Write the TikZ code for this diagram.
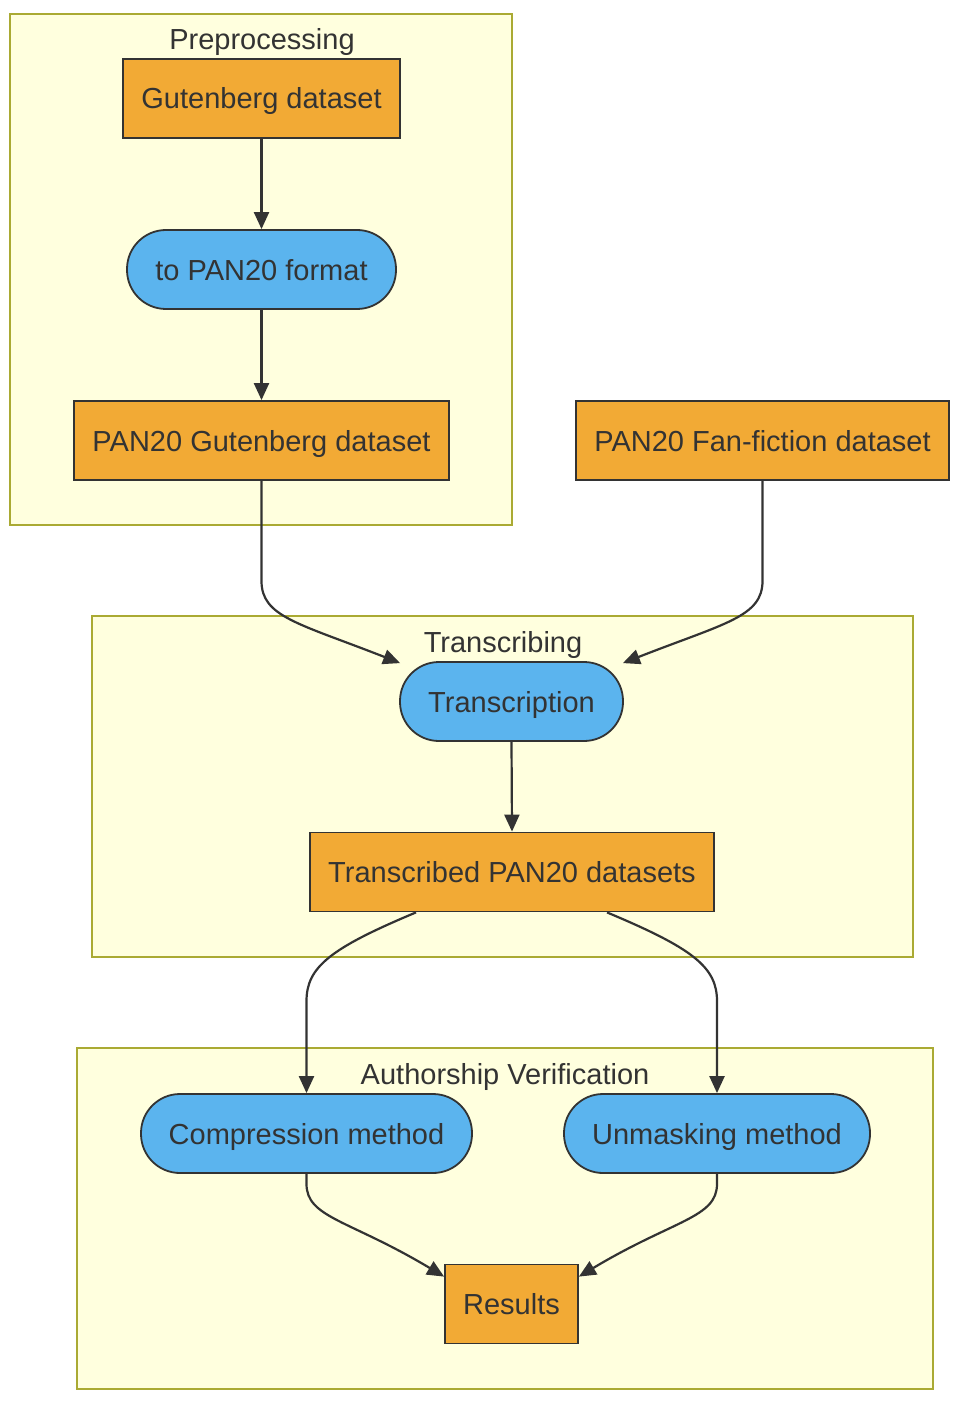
\documentclass[tikz,border=0pt]{standalone}
\usepackage{fontspec}
\setmainfont{Liberation Sans}
\usetikzlibrary{arrows.meta,calc}
\definecolor{clfill}{HTML}{FFFFDE}
\definecolor{cldraw}{HTML}{AAAA33}
\definecolor{orangefill}{HTML}{F2AA35}
\definecolor{bluefill}{HTML}{5BB4EE}
\definecolor{ink}{HTML}{333333}
\tikzset{
  cluster/.style={fill=clfill,draw=cldraw,line width=1.5pt},
  cltitle/.style={text=ink,font=\fontsize{29}{34}\selectfont,inner sep=0pt,anchor=base},
  basebox/.style={fill=orangefill,draw=ink,line width=1.8pt,text=ink,
     font=\fontsize{29}{34}\selectfont,inner sep=0pt,minimum height=79pt,
     text height=21pt,text depth=0pt},
  databox/.style={basebox,rectangle},
  procbox/.style={basebox,rectangle,rounded corners=39pt,fill=bluefill},
  flow/.style={draw=ink,line width=2.2pt,-{Triangle[length=17pt,width=15pt]}}
}
\begin{document}
\begin{tikzpicture}[x=1pt,y=1pt]
\useasboundingbox (0,0) rectangle (964,-1404);
% clusters
\draw[cluster] (10,-14) rectangle (512,-525);
\draw[cluster] (92,-616) rectangle (913,-957);
\draw[cluster] (77,-1048) rectangle (933,-1389);
\node[cltitle] (t1) at (262,-50) {Preprocessing};
\node[cltitle] (t2) at (503,-652) {Transcribing};
\node[cltitle] (t3) at (505,-1084) {Authorship Verification};
% nodes
\node[databox,minimum width=277pt] (gut) at (261.5,-98.5) {Gutenberg dataset};
\node[procbox,minimum width=269pt] (fmt) at (261.5,-269.5) {to PAN20 format};
\node[databox,minimum width=375pt] (pg) at (261.5,-440.5) {PAN20 Gutenberg dataset};
\node[databox,minimum width=373pt] (pf) at (762.5,-440.5) {PAN20 Fan-fiction dataset};
\node[procbox,minimum width=223pt] (tr) at (511.5,-701.5) {Transcription};
\node[databox,minimum width=404pt] (td) at (512,-872) {Transcribed PAN20 datasets};
\node[procbox,minimum width=331pt] (cm) at (306.5,-1133.5) {Compression method};
\node[procbox,minimum width=306pt] (um) at (717,-1133.5) {Unmasking method};
\node[databox,minimum width=133pt] (res) at (511.5,-1304) {Results};
% edges
\draw[flow] (gut.south) -- (fmt.north);
\draw[flow] (fmt.south) -- (pg.north);
\draw[flow] (pg.south) -- ++(0,-100) .. controls +(0,-36) and ($(tr.north west)+(-101,38)$) .. ($(tr.north west)+(1,-2)$);
\draw[flow] (pf.south) -- ++(0,-100) .. controls +(0,-36) and ($(tr.north east)+(101,38)$) .. ($(tr.north east)+(-1,-2)$);
\draw[flow] (tr.south) -- (td.north);
\draw[flow] ($(td.south)+(-96,0)$) .. controls +(-86,-36) and ($(cm.north)+(0,126)$) .. ($(cm.north)+(0,92)$) -- (cm.north);
\draw[flow] ($(td.south)+(95,0)$) .. controls +(86,-36) and ($(um.north)+(0,126)$) .. ($(um.north)+(0,92)$) -- (um.north);
\draw[flow] (cm.south) -- ++(0,-10) .. controls +(0,-34) and ($(res.north west)+(-95,44)$) .. ($(res.north west)+(0,-13)$);
\draw[flow] (um.south) -- ++(0,-10) .. controls +(0,-34) and ($(res.north east)+(95,44)$) .. ($(res.north east)+(0,-13)$);
\end{tikzpicture}
\end{document}
